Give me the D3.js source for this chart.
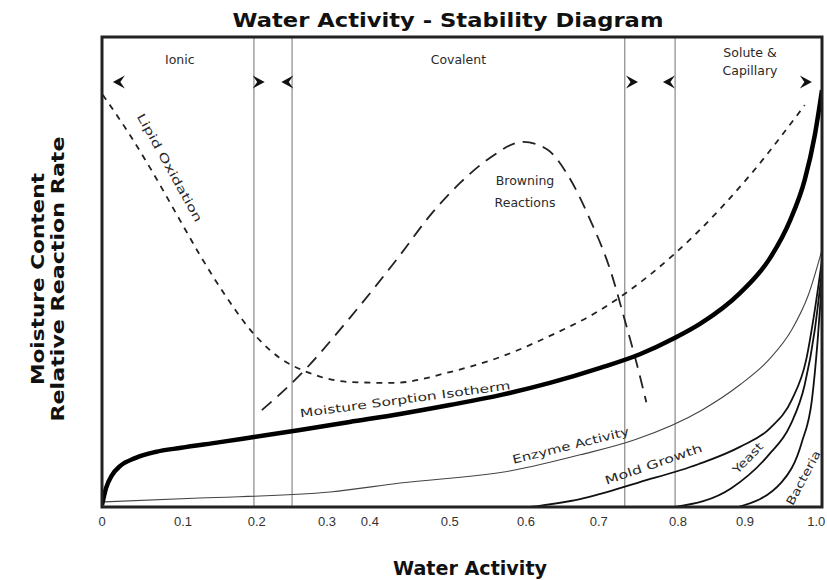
<!DOCTYPE html>
<html>
<head>
<meta charset="utf-8">
<script src="https://cdn.jsdelivr.net/npm/d3@7"></script>
<style>
  body { margin: 0; background: #fff; }
  svg text { font-family: "DejaVu Sans", sans-serif; fill: #2a2a2a; }
  .bold { font-weight: bold; fill: #111; }
  .tick { font-family: "Liberation Sans", sans-serif; }
</style>
</head>
<body>
<svg id="canvas"></svg>
<script>
const width = 827;
const height = 580;
const margin = { top: 37, right: 5, bottom: 73, left: 102 };
const w = width - margin.left - margin.right;
const h = height - margin.top - margin.bottom;

// x is position along the (hand drawn) water activity axis, y is relative rate
const tickLabels = ["0", "0.1", "0.2", "0.3", "0.4", "0.5", "0.6", "0.7", "0.8", "0.9", "1.0"];
const tickAt = [0, 0.1125, 0.215, 0.3125, 0.372, 0.483, 0.589, 0.69, 0.8, 0.893, 0.992];

const zoneLines = [0.211, 0.264, 0.726, 0.796];
const zoneNames = [["Ionic"], ["Covalent"], ["Solute &", "Capillary"]];
const zoneNameX = [0.108, 0.495, 0.9];
const arrowX = [0.022, 0.219, 0.256, 0.7375, 0.786, 0.979];
const arrowDir = ["l", "r", "l", "r", "l", "r"];

const isotherm = [[0, 0.004], [0.0056, 0.04], [0.014, 0.068], [0.025, 0.087], [0.046, 0.104], [0.074, 0.117],
  [0.11, 0.126], [0.164, 0.138], [0.211, 0.149], [0.275, 0.164], [0.344, 0.181], [0.414, 0.198],
  [0.483, 0.217], [0.553, 0.238], [0.622, 0.264], [0.692, 0.296], [0.747, 0.325], [0.796, 0.36],
  [0.831, 0.39], [0.886, 0.455], [0.928, 0.53], [0.956, 0.611], [0.976, 0.696], [0.99, 0.791], [1.0, 0.887]];

const lipid = [[0.001, 0.877], [0.039, 0.791], [0.067, 0.721], [0.108, 0.611], [0.136, 0.536], [0.171, 0.451],
  [0.206, 0.377], [0.247, 0.317], [0.285, 0.287], [0.344, 0.266], [0.404, 0.264], [0.483, 0.287],
  [0.553, 0.319], [0.622, 0.364], [0.692, 0.419], [0.761, 0.494], [0.826, 0.583], [0.9, 0.706], [0.976, 0.855]];

const browning = [[0.222, 0.206], [0.275, 0.281], [0.344, 0.402], [0.414, 0.536], [0.456, 0.621], [0.497, 0.689],
  [0.539, 0.743], [0.585, 0.777], [0.619, 0.76], [0.647, 0.706], [0.678, 0.611], [0.706, 0.504],
  [0.726, 0.398], [0.742, 0.309], [0.756, 0.223]];

const enzyme = [[0.003, 0.011], [0.136, 0.019], [0.317, 0.032], [0.414, 0.051], [0.568, 0.077], [0.664, 0.111],
  [0.74, 0.143], [0.833, 0.206], [0.886, 0.26], [0.926, 0.313], [0.958, 0.377], [0.981, 0.451], [1.0, 0.547]];

const mold = [[0.594, 0], [0.664, 0.017], [0.747, 0.053], [0.828, 0.091], [0.886, 0.128], [0.928, 0.168],
  [0.958, 0.228], [0.978, 0.313], [0.99, 0.419], [1.0, 0.526]];

const yeast = [[0.796, 0], [0.874, 0.04], [0.926, 0.111], [0.956, 0.174], [0.976, 0.26], [0.99, 0.377], [1.0, 0.504]];

const bacteria = [[0.883, 0], [0.944, 0.053], [0.972, 0.138], [0.986, 0.228], [0.994, 0.355], [1.0, 0.483]];

// curve labels: text, centre, angle, drawn length
const curveLabels = [
  { text: "Lipid Oxidation", x: 0.094, y: 0.722, a: 61, len: 122 },
  { text: "Moisture Sorption Isotherm", x: 0.421, y: 0.229, a: -7.6, len: 212 },
  { text: "Enzyme Activity", x: 0.651, y: 0.131, a: -14, len: 120 },
  { text: "Mold Growth", x: 0.766, y: 0.091, a: -19, len: 102 },
  { text: "Yeast", x: 0.897, y: 0.104, a: -46, len: 38 },
  { text: "Bacteria", x: 0.974, y: 0.062, a: -62, len: 60 }
];
const browningLabel = ["Browning", "Reactions"];

const svg = d3.select("#canvas")
  .attr("width", width)
  .attr("height", height);

const x = d3.scaleLinear().domain([0, 1]).range([0, w]);
const y = d3.scaleLinear().domain([0, 1]).range([h, 0]);

svg.append("text").attr("class", "bold")
  .attr("x", margin.left + w / 2 - 14).attr("y", 27)
  .attr("text-anchor", "middle").style("font-size", "19px")
  .attr("textLength", 431).attr("lengthAdjust", "spacingAndGlyphs")
  .text("Water Activity - Stability Diagram");

const g = svg.append("g").attr("transform", `translate(${margin.left},${margin.top})`);

g.append("clipPath").attr("id", "clip")
  .append("rect").attr("width", w).attr("height", h);

// zone separators
g.selectAll(".zone").data(zoneLines).enter().append("line")
  .attr("x1", d => x(d)).attr("x2", d => x(d))
  .attr("y1", 0).attr("y2", h)
  .attr("stroke", "#999").attr("stroke-width", 1.4);

// zone names
zoneNames.forEach((lines, i) => {
  const t = g.append("text")
    .attr("x", x(zoneNameX[i]))
    .attr("y", lines.length > 1 ? 20 : 27)
    .attr("text-anchor", "middle")
    .style("font-size", "12.5px");
  lines.forEach((s, j) => t.append("tspan").attr("x", x(zoneNameX[i])).attr("dy", j ? 18 : 0).text(s));
});

// arrowheads
const arrowPath = "M0,0 L-12,-6.5 L-7.5,0 L-12,6.5 Z";
g.selectAll(".arrow").data(arrowX).enter().append("path")
  .attr("d", arrowPath)
  .attr("fill", "#111")
  .attr("transform", (d, i) => `translate(${x(d) + (arrowDir[i] === "r" ? 5 : -5)},45) scale(${arrowDir[i] === "r" ? 1 : -1},1)`);

const line = d3.line()
  .x(d => x(d[0]))
  .y(d => y(d[1]))
  .curve(d3.curveMonotoneX);

const plot = g.append("g").attr("clip-path", "url(#clip)");

const series = [
  { data: enzyme, width: 1.1, color: "#444", dash: null },
  { data: mold, width: 1.8, color: "#111", dash: null },
  { data: yeast, width: 1.8, color: "#111", dash: null },
  { data: bacteria, width: 1.8, color: "#111", dash: null },
  { data: lipid, width: 1.8, color: "#222", dash: "6,6" },
  { data: browning, width: 1.8, color: "#222", dash: "13,8" },
  { data: isotherm, width: 4.5, color: "#000", dash: null }
];

plot.selectAll(".curve").data(series).enter().append("path")
  .attr("d", d => line(d.data))
  .attr("fill", "none")
  .attr("stroke", d => d.color)
  .attr("stroke-width", d => d.width)
  .attr("stroke-dasharray", d => d.dash);

// browning label
g.selectAll(".brown").data(browningLabel).enter().append("text")
  .attr("text-anchor", "middle").style("font-size", "12.5px")
  .attr("x", x(0.5875)).attr("y", (d, i) => y(0.685) + i * 22)
  .text(d => d);

g.selectAll(".clabel").data(curveLabels).enter().append("text")
  .attr("text-anchor", "middle").attr("dy", "0.35em").style("font-size", "11.5px")
  .attr("textLength", d => d.len).attr("lengthAdjust", "spacingAndGlyphs")
  .attr("transform", d => `translate(${x(d.x)},${y(d.y)}) rotate(${d.a})`)
  .text(d => d.text);

// frame
g.append("rect").attr("width", w).attr("height", h)
  .attr("fill", "none").attr("stroke", "#222").attr("stroke-width", 3);

// tick labels
g.selectAll(".tick").data(tickLabels).enter().append("text")
  .attr("class", "tick")
  .attr("x", (d, i) => x(tickAt[i])).attr("y", h + 19)
  .attr("text-anchor", "middle").style("font-size", "13px").style("fill", "#333")
  .text(d => d);

svg.append("text").attr("class", "bold")
  .attr("x", 470).attr("y", 575).attr("text-anchor", "middle")
  .style("font-size", "19px")
  .attr("textLength", 154).attr("lengthAdjust", "spacingAndGlyphs")
  .text("Water Activity");

const yTitle = svg.append("g").attr("transform", "translate(44,279) rotate(-90)");
yTitle.append("text").attr("class", "bold").attr("text-anchor", "middle")
  .style("font-size", "17px")
  .attr("textLength", 212).attr("lengthAdjust", "spacingAndGlyphs")
  .text("Moisture Content");
yTitle.append("text").attr("class", "bold").attr("text-anchor", "middle")
  .attr("y", 20).style("font-size", "17px")
  .attr("textLength", 285).attr("lengthAdjust", "spacingAndGlyphs")
  .text("Relative Reaction Rate");
</script>
</body>
</html>
